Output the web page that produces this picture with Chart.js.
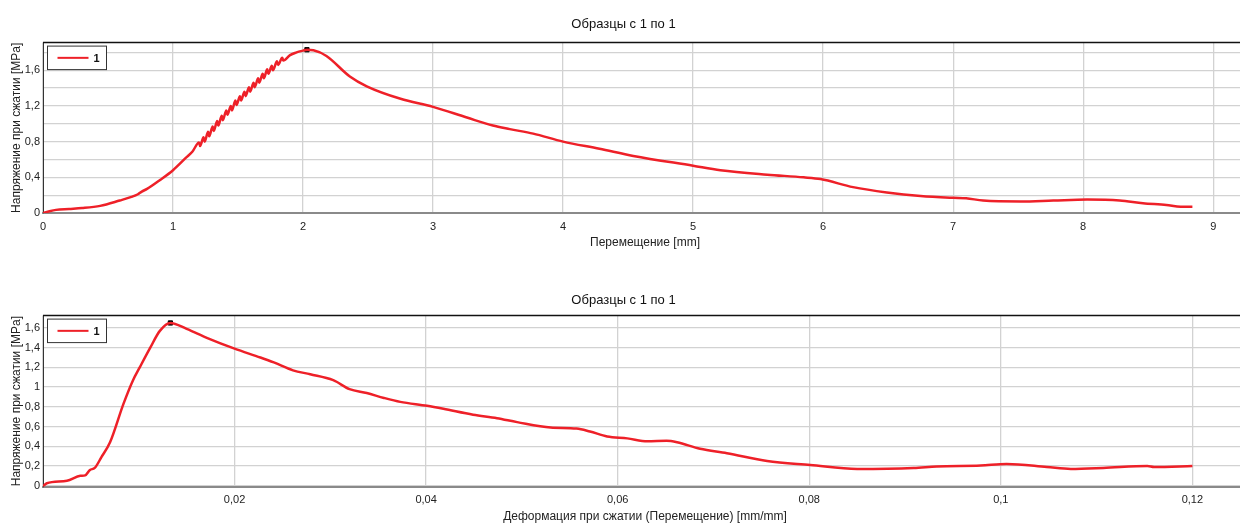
<!DOCTYPE html>
<html>
<head>
<meta charset="utf-8">
<script src="https://cdn.jsdelivr.net/npm/chart.js@4"></script>
<style>
  html, body { margin: 0; padding: 0; background: #fff; overflow: hidden; }
  #top-box { position: absolute; left: 0; top: 0; }
  #bottom-box { position: absolute; left: 0; top: 276px; }
</style>
</head>
<body>
<div id="top-box"><canvas id="top-chart" width="1290" height="262"></canvas></div>
<div id="bottom-box"><canvas id="bottom-chart" width="1290" height="249"></canvas></div>
<script>
// top chart: stress vs displacement
const topDisp = [0, 0.05, 0.1, 0.2, 0.3, 0.44, 0.59, 0.68, 0.73, 0.76, 0.8, 0.9, 1.0, 1.1, 1.15,
  1.2, 1.208, 1.235, 1.243, 1.27, 1.278, 1.305, 1.313, 1.34, 1.348, 1.375, 1.383, 1.41, 1.418,
  1.445, 1.453, 1.48, 1.488, 1.515, 1.523, 1.55, 1.558, 1.585, 1.593, 1.62, 1.628, 1.655, 1.663,
  1.69, 1.698, 1.725, 1.733, 1.76, 1.768, 1.8, 1.808, 1.84, 1.848, 1.9, 1.95, 2.0, 2.03,
  2.08, 2.18, 2.36, 2.49, 2.75, 3.0, 3.26, 3.46, 3.59, 3.77, 4.0, 4.28, 4.54, 5.0, 5.21, 5.57,
  5.85, 5.98, 6.23, 6.49, 6.75, 7.0, 7.1, 7.23, 7.52, 7.77, 8.03, 8.28, 8.46, 8.64, 8.75, 8.84];
const topStress = [0, 0.02, 0.035, 0.045, 0.055, 0.08, 0.14, 0.18, 0.21, 0.24, 0.27, 0.37, 0.48, 0.62, 0.69,
  0.79, 0.75, 0.85, 0.80, 0.91, 0.86, 0.97, 0.92, 1.03, 0.98, 1.09, 1.04, 1.15, 1.10,
  1.20, 1.15, 1.26, 1.21, 1.31, 1.26, 1.36, 1.31, 1.41, 1.36, 1.46, 1.41, 1.51, 1.46,
  1.56, 1.51, 1.61, 1.56, 1.65, 1.60, 1.70, 1.66, 1.74, 1.71, 1.77, 1.80, 1.82, 1.83,
  1.825, 1.76, 1.53, 1.42, 1.28, 1.19, 1.07, 0.98, 0.94, 0.89, 0.80, 0.72, 0.64, 0.53, 0.48, 0.43,
  0.40, 0.38, 0.29, 0.23, 0.19, 0.17, 0.165, 0.14, 0.13, 0.14, 0.15, 0.14, 0.11, 0.09, 0.07, 0.07];
const topPeak = [2.03, 1.83];

// bottom chart: stress vs strain
const strain = [0, 0.0004, 0.0025, 0.0039, 0.0044, 0.0049, 0.0054, 0.0061, 0.007, 0.0084, 0.0094,
  0.0101, 0.0112, 0.0122, 0.0133, 0.015, 0.0171, 0.02, 0.0227, 0.0241, 0.0261, 0.0279, 0.0303,
  0.032, 0.0338, 0.0356, 0.0373, 0.0401, 0.0418, 0.0449, 0.0474, 0.0495, 0.053, 0.0557, 0.0571,
  0.0589, 0.061, 0.0631, 0.0651, 0.0662, 0.0686, 0.0714, 0.0756, 0.0801, 0.085, 0.0909, 0.0933,
  0.0979, 0.1006, 0.1048, 0.1073, 0.1107, 0.1153, 0.116, 0.12];
const strainStress = [-0.005, 0.025, 0.05, 0.1, 0.105, 0.16, 0.18, 0.29, 0.44, 0.83, 1.07,
  1.2, 1.4, 1.57, 1.65, 1.59, 1.5, 1.39, 1.3, 1.25, 1.17, 1.13, 1.07,
  0.98, 0.94, 0.89, 0.85, 0.81, 0.78, 0.72, 0.685, 0.645, 0.59, 0.58, 0.55,
  0.5, 0.48, 0.45, 0.455, 0.44, 0.375, 0.33, 0.25, 0.21, 0.17, 0.18, 0.195,
  0.205, 0.22, 0.19, 0.17, 0.18, 0.2, 0.19, 0.2];
const bottomPeak = [0.0133, 1.65];

const titleText = "Образцы с 1 по 1";
const yTitle = "Напряжение при сжатии [MPa]";
const topXTitle = "Перемещение [mm]";
const bottomXTitle = "Деформация при сжатии (Перемещение) [mm/mm]";
const seriesName = "1";

const FONT = "'Liberation Sans', Arial, sans-serif";
const RED = "rgb(238, 32, 40)";

function comma(v) {
  return String(Math.round(v * 1000) / 1000).replace(".", ",");
}

// legend box drawn inside the plot, and the black top frame line
const framePlugin = {
  id: "frame",
  afterDraw(chart) {
    const ctx = chart.ctx;
    const a = chart.chartArea;
    ctx.save();
    ctx.strokeStyle = "#111";
    ctx.lineWidth = 1.5;
    ctx.beginPath();
    ctx.moveTo(a.left, a.top);
    ctx.lineTo(a.right, a.top);
    ctx.stroke();

    const bx = a.left + 4.5, by = a.top + 3.5, bw = 59, bh = 23.5;
    ctx.fillStyle = "#fff";
    ctx.fillRect(bx, by, bw, bh);
    ctx.strokeStyle = "#333";
    ctx.lineWidth = 1;
    ctx.strokeRect(bx, by, bw, bh);
    ctx.strokeStyle = RED;
    ctx.lineWidth = 2;
    ctx.beginPath();
    ctx.moveTo(bx + 10, by + bh / 2);
    ctx.lineTo(bx + 41, by + bh / 2);
    ctx.stroke();
    ctx.fillStyle = "#111";
    ctx.font = "bold 11px " + FONT;
    ctx.textBaseline = "middle";
    ctx.fillText(chart.data.datasets[0].label, bx + 46, by + bh / 2 + 1);
    ctx.restore();
  },
};

function makeConfig(xs, ys, peak, opts) {
  const points = xs.map((x, i) => ({ x: x, y: ys[i] }));
  return {
    type: "line",
    data: {
      datasets: [
        {
          label: seriesName,
          data: points,
          borderColor: RED,
          borderWidth: 2.5,
          pointRadius: 0,
          cubicInterpolationMode: "monotone",
          fill: false,
        },
        {
          label: "peak",
          data: [{ x: peak[0], y: peak[1] }],
          showLine: false,
          pointStyle: "rect",
          pointRadius: 3,
          backgroundColor: "#000",
          borderColor: "#000",
        },
      ],
    },
    options: {
      responsive: false,
      animation: false,
      layout: { padding: { left: 0, right: 43, top: 0, bottom: 0 } },
      plugins: {
        legend: { display: false },
        tooltip: { enabled: false },
        title: {
          display: true,
          text: titleText,
          color: "#111",
          font: { family: FONT, size: 13, weight: "normal", lineHeight: 1.2 },
          padding: { top: 17, bottom: opts.titleBottom },
        },
      },
      scales: {
        x: {
          type: "linear",
          min: 0,
          max: opts.xMax,
          afterFit: (s) => { s.height = opts.xHeight; },
          grid: { color: "#d2d2d2", lineWidth: 1.3, drawTicks: false },
          border: { color: "#8a8a8a", width: 2 },
          ticks: {
            stepSize: opts.xStep,
            includeBounds: false,
            maxRotation: 0,
            autoSkip: false,
            padding: 7,
            color: "#222",
            font: { family: FONT, size: 11 },
            callback: opts.xLabel,
          },
          title: {
            display: true,
            text: opts.xTitle,
            color: "#222",
            font: { family: FONT, size: 12 },
            padding: { top: 0, bottom: opts.xTitlePad },
          },
        },
        y: {
          type: "linear",
          min: opts.yMin,
          max: opts.yMax,
          afterFit: (s) => { s.width = 43; },
          grid: { color: "#d2d2d2", lineWidth: 1.3, drawTicks: false },
          border: { color: "#333", width: 1 },
          ticks: {
            stepSize: 0.2,
            includeBounds: false,
            autoSkip: false,
            padding: 3,
            color: "#222",
            font: { family: FONT, size: 11 },
            callback: opts.yLabel,
          },
          title: {
            display: true,
            text: yTitle,
            color: "#222",
            font: { family: FONT, size: 12 },
            padding: { top: 9.5, bottom: 0 },
          },
        },
      },
    },
    plugins: [framePlugin],
  };
}

const topConfig = makeConfig(topDisp, topStress, topPeak, {
  titleBottom: 10,
  xMax: 9.26,
  xStep: 1,
  xHeight: 49,
  xTitle: topXTitle,
  xTitlePad: 12,
  xLabel: (v) => String(v),
  yMin: 0,
  yMax: 1.91,
  yLabel: (v) => (Math.round(v * 10) % 4 === 0 ? comma(v) : ""),
});

const bottomConfig = makeConfig(strain, strainStress, bottomPeak, {
  titleBottom: 7,
  xMax: 0.1257,
  xStep: 0.02,
  xHeight: 38.3,
  xTitle: bottomXTitle,
  xTitlePad: 1.5,
  xLabel: (v) => (v === 0 ? "" : comma(v)),
  yMin: -0.01,
  yMax: 1.725,
  yLabel: (v) => comma(v),
});

new Chart(document.getElementById("top-chart"), topConfig);
new Chart(document.getElementById("bottom-chart"), bottomConfig);
</script>
</body>
</html>
